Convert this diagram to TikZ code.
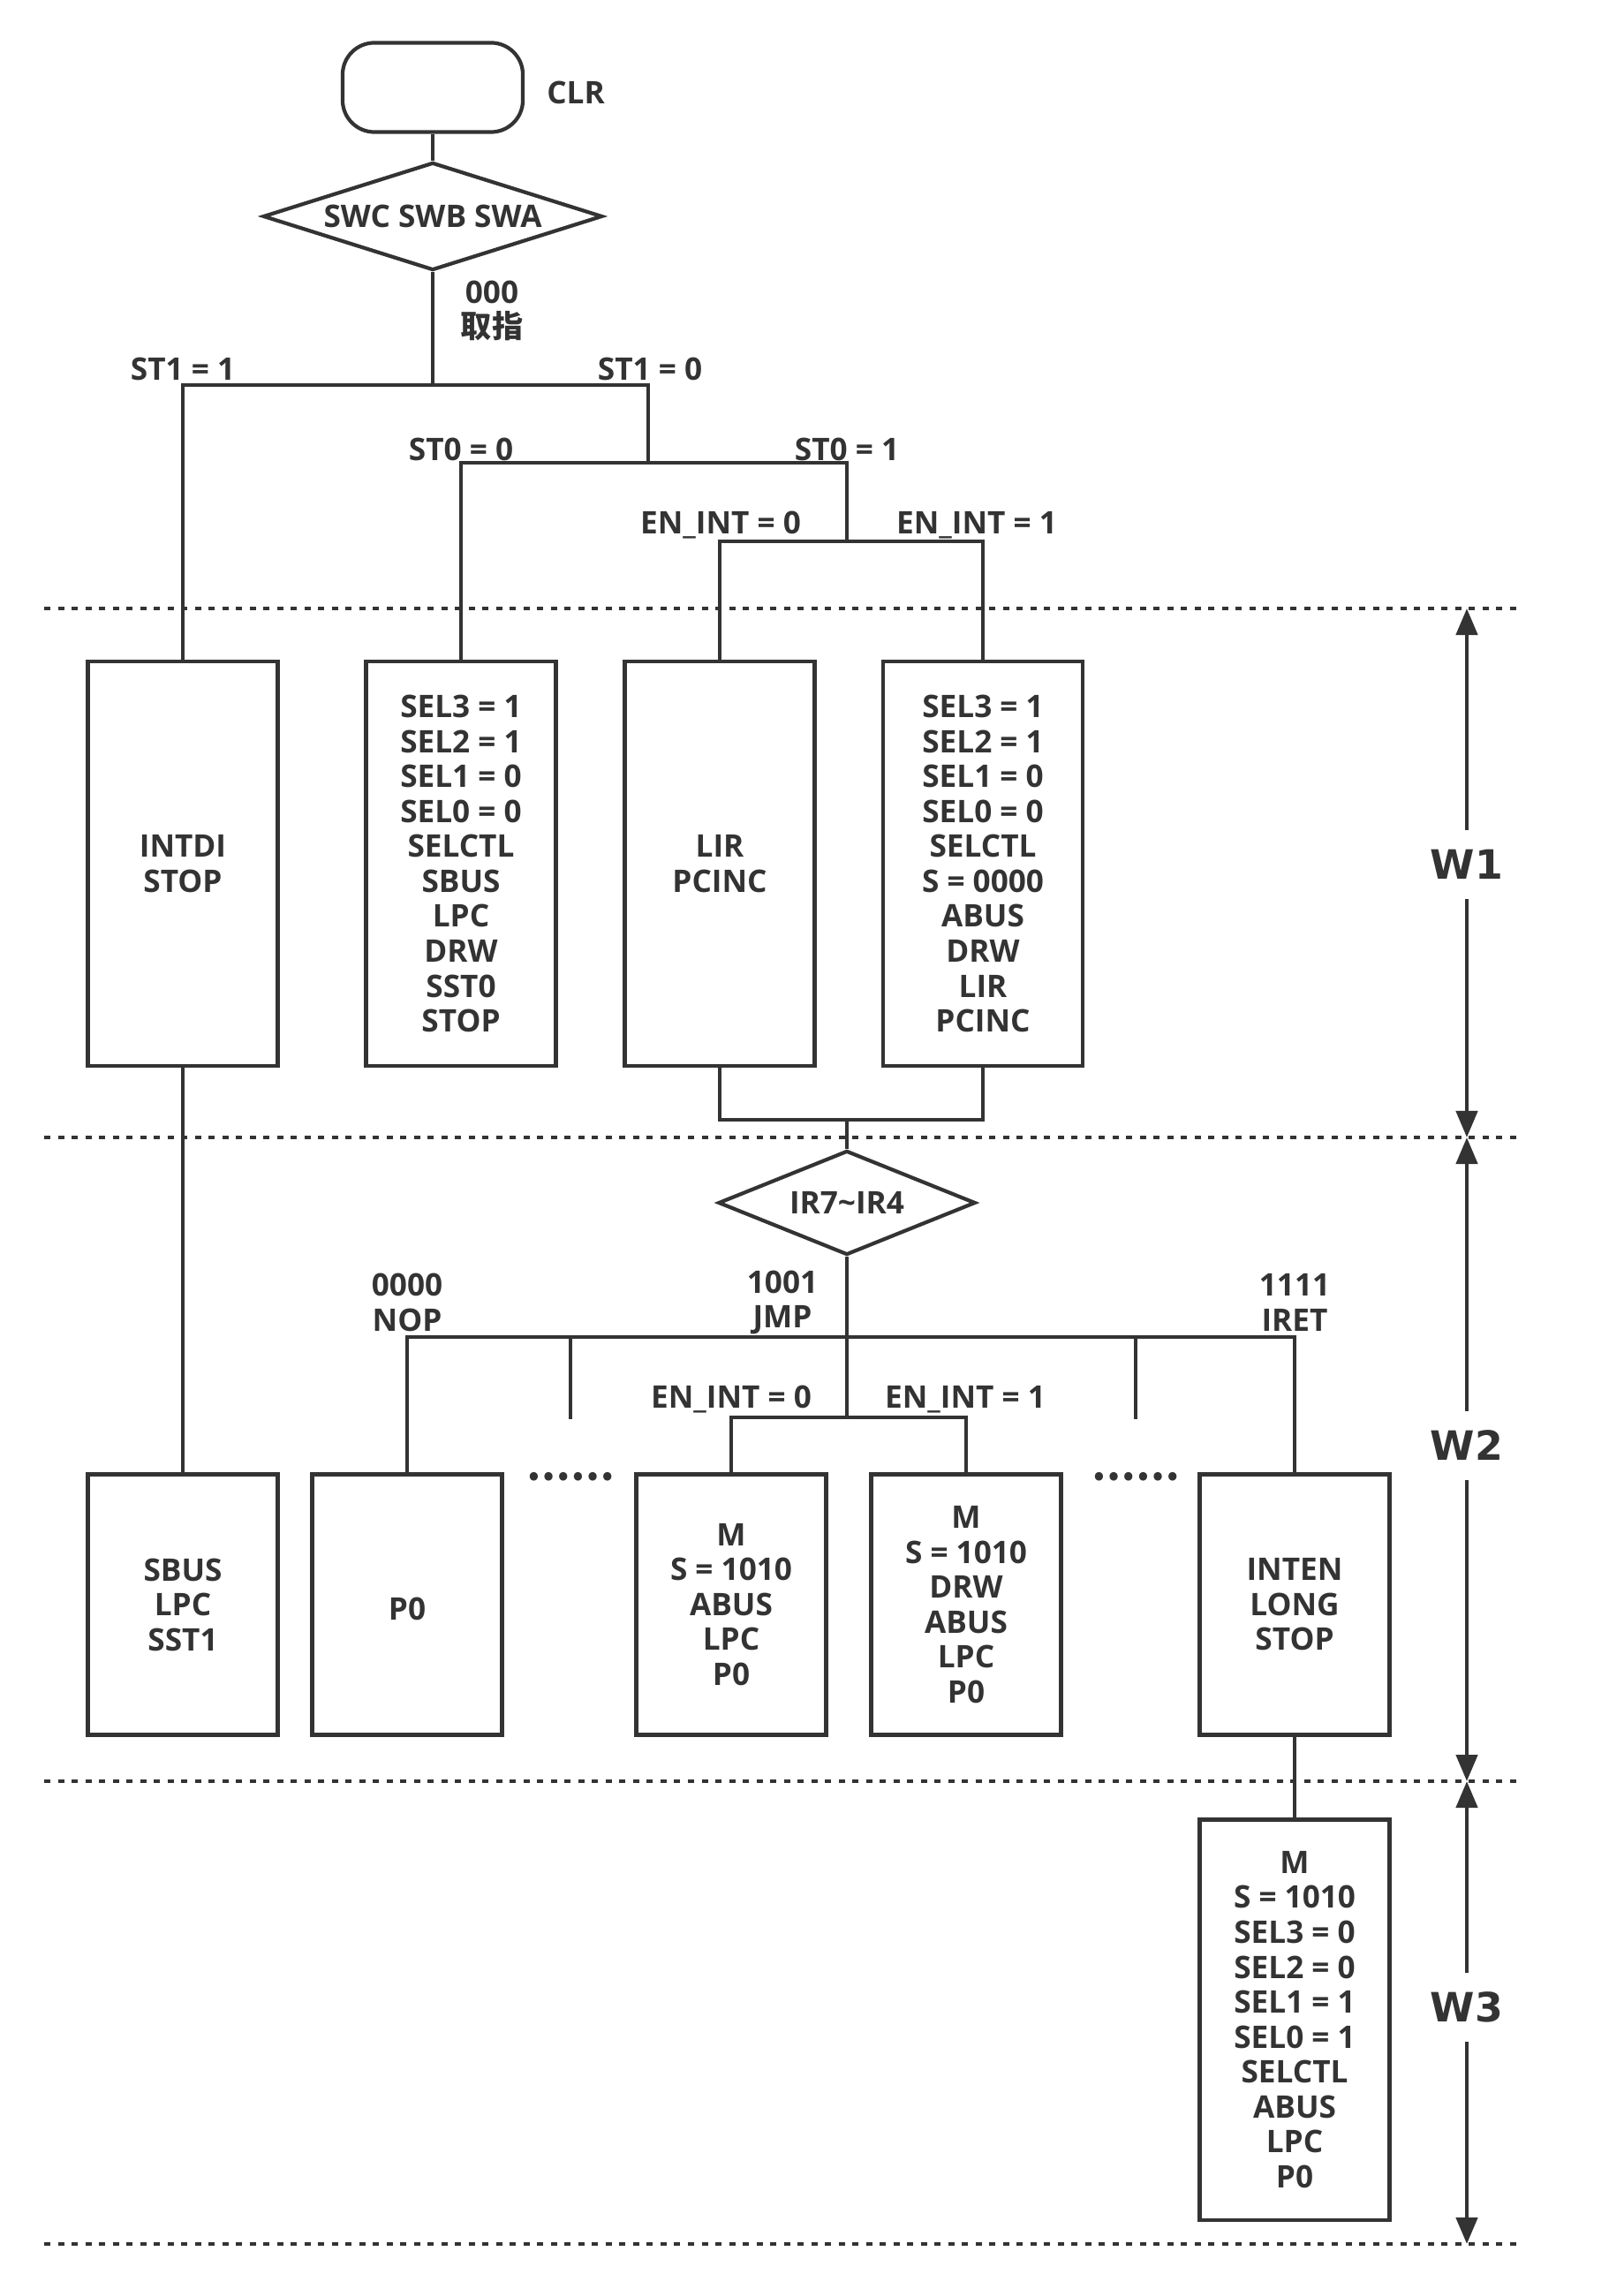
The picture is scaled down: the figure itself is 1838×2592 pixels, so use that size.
\documentclass[tikz,border=0pt]{standalone}
\usepackage{fontspec}
\setmainfont{Open Sans}
\newfontfamily\cjk{Noto Sans CJK SC}
\newfontfamily\wfont{DejaVu Sans}
\usetikzlibrary{shapes.geometric, arrows.meta}
\definecolor{ink}{HTML}{333333}

\begin{document}
\begin{tikzpicture}[x = 0.01cm, y = -0.01cm, color = ink, line width = 1.2pt,
    every node/.style = {font = \fontsize{10}{11.25}\selectfont\bfseries, align = center, inner sep = 0pt},
    opbox/.style = {draw, minimum width = 2.15cm, execute at begin node = {\rule{0pt}{10pt}}},
    cond/.style = {diamond, draw},
    sep/.style = {line width = 1.3pt, dash pattern = on 0.07cm off 0.085cm},
    warrow/.style = {line width = 1.3pt, -{Triangle[length = 0.3cm, width = 0.24cm]}},
    wlbl/.style = {font = \wfont\fontsize{13}{15}\selectfont\bfseries, inner ysep = 0.2cm},
    dots/.style = {font = \cjk\fontsize{12.5}{14}\selectfont\bfseries}]
    \useasboundingbox (0, 0) rectangle (1838, 2592);

    % beat separators
    \coordinate (s0) at (0, 689);
    \coordinate (s1) at (0, 1288);
    \coordinate (s2) at (0, 2017);
    \coordinate (s3) at (0, 2541);
    \foreach \y in {689, 1288, 2017, 2541}
        \draw [sep] (50, \y) -- (1722, \y);

    % start and mode switch
    \node [draw, rounded corners = 0.36cm, minimum width = 2.04cm, minimum height = 1.01cm] (clr) at (490, 99) {};
    \node at (652, 105) {CLR};
    \node [cond, aspect = 3.15, minimum width = 3.84cm, minimum height = 1.22cm] (sw) at (490, 245) {SWC SWB SWA};
    \node at (557, 352) {000\\{\cjk 取指}};

    \coordinate (st1) at (490, 436);
    \coordinate (st0) at (734, 524);
    \coordinate (en1) at (959, 613);

    % W1
    \node [opbox, minimum height = 4.58cm] (intdi) at (207, 978) {INTDI\\STOP};
    \node [opbox, minimum height = 4.58cm] (wpc) at (522, 978) {SEL3 = 1\\SEL2 = 1\\SEL1 = 0\\SEL0 = 0\\SELCTL\\SBUS\\LPC\\DRW\\SST0\\STOP};
    \node [opbox, minimum height = 4.58cm] (fetch) at (815, 978) {LIR\\PCINC};
    \node [opbox, minimum height = 4.58cm, minimum width = 2.26cm] (fetchi) at (1113, 978) {SEL3 = 1\\SEL2 = 1\\SEL1 = 0\\SEL0 = 0\\SELCTL\\S = 0000\\ABUS\\DRW\\LIR\\PCINC};

    \draw (clr) -- (sw);
    \draw (sw) -- (st1);
    \draw (intdi) |- (st1) -| (st0);
    \draw (wpc) |- (st0) -| (en1);
    \draw (fetch) |- (en1) -| (fetchi);

    \node at (207, 418) {ST1 = 1};
    \node at (736, 418) {ST1 = 0};
    \node at (522, 509) {ST0 = 0};
    \node at (959, 509) {ST0 = 1};
    \node at (816, 595) {EN\_INT = 0};
    \node at (1106, 595) {EN\_INT = 1};

    % decode
    \coordinate (mrg) at (959, 1268);
    \draw (fetch) |- (mrg) -| (fetchi);
    \node [cond, aspect = 2.47, minimum width = 2.91cm, minimum height = 1.18cm] (ir) at (959, 1362) {IR7\textasciitilde IR4};
    \draw (mrg) -- (ir);

    % W2
    \node [opbox, minimum height = 2.95cm] (sst1) at (207, 1817) {SBUS\\LPC\\SST1};
    \node [opbox, minimum height = 2.95cm] (nop) at (461, 1817) {P0};
    \node [opbox, minimum height = 2.95cm] (jmpn) at (828, 1817) {M\\S = 1010\\ABUS\\LPC\\P0};
    \node [opbox, minimum height = 2.95cm] (jmpi) at (1094, 1817) {M\\S = 1010\\DRW\\ABUS\\LPC\\P0};
    \node [opbox, minimum height = 2.95cm] (iret) at (1466, 1817) {INTEN\\LONG\\STOP};

    \coordinate (op) at (959, 1514);
    \coordinate (en2) at (959, 1605);
    \draw (intdi) -- (sst1);
    \draw (ir) -- (op) -- (en2);
    \draw (nop) |- (op) -| (iret);
    \draw (jmpn) |- (en2) -| (jmpi);
    \foreach \x in {646, 1286}
        \draw (\x, 1514) -- (\x, 1607);

    \node at (461, 1475) {0000\\NOP};
    \node at (886, 1475) {1001\\JMP};
    \node at (1466, 1475) {1111\\IRET};
    \node at (828, 1585) {EN\_INT = 0};
    \node at (1093, 1585) {EN\_INT = 1};
    \node [dots] at (646, 1672) {……};
    \node [dots] at (1286, 1672) {……};

    % W3
    \node [opbox, minimum height = 4.53cm] (iretw) at (1466, 2287) {M\\S = 1010\\SEL3 = 0\\SEL2 = 0\\SEL1 = 1\\SEL0 = 1\\SELCTL\\ABUS\\LPC\\P0};
    \draw (iret) -- (iretw);

    % beats
    \node [wlbl] (w1) at (1661, 979) {W1};
    \node [wlbl] (w2) at (1661, 1637) {W2};
    \node [wlbl] (w3) at (1661, 2273) {W3};
    \draw [warrow] (w1) -- (w1 |- s0);
    \draw [warrow] (w1) -- (w1 |- s1);
    \draw [warrow] (w2) -- (w2 |- s1);
    \draw [warrow] (w2) -- (w2 |- s2);
    \draw [warrow] (w3) -- (w3 |- s2);
    \draw [warrow] (w3) -- (w3 |- s3);
\end{tikzpicture}
\end{document}
